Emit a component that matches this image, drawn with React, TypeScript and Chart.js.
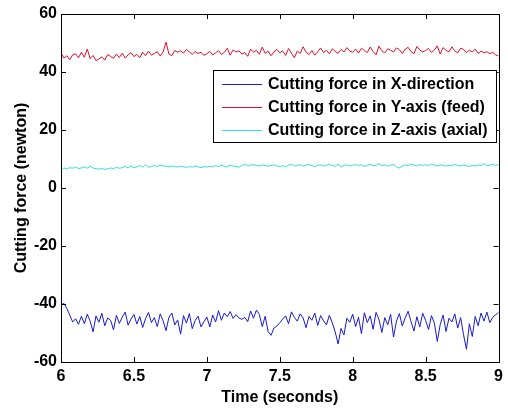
import React, { useEffect, useRef } from "react";
import { Chart, registerables } from "chart.js";

Chart.register(...registerables);

const T_START = 6;
const T_END = 9;
const xTicks = [6, 6.5, 7, 7.5, 8, 8.5, 9];
const yTicks = [-60, -40, -20, 0, 20, 40, 60];

const seriesNames = [
  "Cutting force in X-direction",
  "Cutting force in Y-axis (feed)",
  "Cutting force in Z-axis (axial)",
];
const seriesColors = ["#1a1acc", "#e0102a", "#2ee0dc"];

const forceX = [
  -40.3, -39.8, -41.5, -43.8, -46.2, -45.1, -47.0, -44.2, -46.8, -43.5, -45.9, -49.6, -44.1, -46.3, -43.2, -47.5, -44.8, -45.6, -48.9, -43.9, -46.7, -44.5, -42.8, -47.3, -45.2,
  -43.6, -46.9, -44.3, -48.1, -45.0, -42.9, -46.4, -44.7, -47.8, -43.4, -45.8, -49.2, -44.6, -43.1, -47.2, -45.5, -50.4, -44.0, -46.6, -43.3, -48.5, -45.7, -44.2, -47.9, -46.1,
  -44.5, -47.9, -43.8, -46.2, -42.3, -45.6, -43.1, -44.4, -42.6, -45.0, -43.7, -44.8, -45.3, -44.6, -46.1, -42.4, -44.9, -42.1, -43.6, -47.8, -44.2, -49.5, -50.8, -48.3, -47.6,
  -46.5, -45.2, -44.1, -46.8, -42.7, -44.6, -45.9, -43.4, -44.8, -48.2, -44.3, -45.6, -43.1, -47.4, -44.0, -45.8, -47.2, -43.9, -46.5, -49.6, -53.8, -48.4, -50.7, -44.9, -46.3,
  -43.5, -47.8, -44.6, -50.2, -43.0, -46.4, -44.1, -48.7, -42.9, -45.3, -49.8, -44.7, -47.2, -43.6, -51.4, -45.9, -43.3, -47.6, -44.8, -42.5, -46.1, -49.3, -44.4, -47.9, -43.2,
  -45.7, -48.8, -44.0, -46.6, -52.9, -47.1, -43.8, -49.5, -44.9, -46.2, -43.4, -48.3, -44.7, -50.6, -55.6, -46.8, -51.2, -44.3, -47.5, -43.1, -45.9, -42.8, -46.4, -44.6, -43.7, -42.9,
];

const forceY = [
  46.5, 44.8, 45.6, 44.2, 45.9, 46.3, 44.9, 46.8, 45.1, 47.9, 44.6, 45.7, 43.9, 44.5, 45.2, 44.1, 46.0, 45.4, 44.7, 46.2, 45.0, 46.5, 44.8, 45.9, 46.7,
  45.3, 46.1, 44.9, 46.8, 45.6, 47.2, 45.8, 46.4, 47.0, 45.5, 46.9, 50.3, 46.2, 45.6, 47.4, 46.8, 47.3, 46.5, 47.8, 46.9, 46.1, 47.0, 46.4, 46.8, 45.7,
  46.3, 47.1, 45.9, 46.6, 47.4, 46.0, 46.8, 48.2, 45.8, 47.6, 46.9, 47.3, 46.2, 46.7, 45.4, 47.9, 46.8, 47.5, 46.1, 48.6, 46.4, 47.2, 45.6, 46.9, 47.8,
  46.6, 47.3, 45.7, 48.1, 46.5, 44.9, 47.2, 46.4, 48.7, 46.9, 46.0, 47.4, 45.8, 47.0, 48.3, 46.7, 47.5, 46.3, 48.0, 47.1, 46.4, 47.8, 46.9, 48.4, 47.2,
  46.8, 47.9, 46.5, 48.2, 47.4, 46.7, 48.6, 47.1, 45.9, 48.9, 47.3, 46.6, 48.0, 47.5, 46.9, 48.3, 47.7, 46.4, 47.9, 48.5, 47.0, 46.3, 48.8, 47.6, 46.9,
  47.4, 48.1, 46.8, 47.6, 49.0, 46.2, 48.4, 47.5, 46.9, 48.7, 47.3, 46.6, 48.2, 47.8, 46.7, 47.5, 46.9, 47.9, 46.4, 47.2, 46.6, 47.0, 46.3, 46.8, 45.9, 45.5,
];

const forceZ = [
  6.4, 6.9, 6.6, 7.0, 6.8, 7.2, 6.7, 6.9, 7.3, 6.8, 7.5, 6.9, 6.6, 6.5, 6.7, 6.4, 6.6, 6.9, 6.7, 7.1, 6.8, 7.0, 7.4, 6.9, 7.6,
  7.0, 7.3, 7.8, 7.2, 8.1, 7.1, 7.5, 7.7, 7.4, 7.9, 7.6, 7.5, 7.3, 7.6, 7.4, 7.2, 7.5, 7.3, 7.1, 7.4, 7.2, 7.6, 7.3, 7.0, 7.4,
  7.2, 7.5, 7.3, 7.7, 7.4, 7.8, 7.5, 7.3, 7.9, 7.6, 7.4, 7.2, 7.7, 8.3, 7.6, 7.9, 8.1, 7.8, 7.6, 8.0, 7.7, 7.5, 7.8, 8.0, 7.6,
  7.4, 7.7, 7.3, 7.9, 8.2, 7.6, 7.8, 8.0, 7.5, 7.9, 8.1, 7.7, 7.4, 7.8, 8.0, 7.6, 7.9, 8.2, 7.7, 7.5, 8.3, 7.2, 7.8, 8.0, 7.6,
  7.9, 8.1, 7.7, 8.0, 7.4, 7.8, 8.2, 7.6, 7.9, 8.4, 7.7, 8.0, 7.5, 7.9, 8.1, 7.3, 6.9, 7.6, 8.0, 7.7, 8.3, 7.9, 7.6, 8.1, 7.8,
  8.0, 7.7, 8.2, 7.9, 7.6, 8.0, 7.8, 7.5, 7.9, 7.7, 8.1, 7.8, 7.6, 7.9, 7.7, 7.4, 7.8, 7.6, 8.0, 7.7, 8.4, 7.6, 7.9, 8.2, 7.8, 8.0,
];

const FONT = "'Liberation Sans', Arial, sans-serif";
const FONT_SIZE = 16;

function toPoints(values: number[]) {
  const n = values.length;
  return values.map((v, i) => ({ x: T_START + ((T_END - T_START) * i) / (n - 1), y: v }));
}

const framePlugin = {
  id: "matlabFrame",
  afterDraw(chart: any) {
    const { ctx, chartArea, scales } = chart;
    const { left, right, top, bottom } = chartArea;
    ctx.save();
    ctx.strokeStyle = "#000";
    ctx.lineWidth = 1;
    ctx.strokeRect(Math.round(left) + 0.5, Math.round(top) + 0.5, Math.round(right - left), Math.round(bottom - top));
    const tl = 5;
    ctx.beginPath();
    xTicks.forEach((v) => {
      const px = Math.round(scales.x.getPixelForValue(v)) + 0.5;
      ctx.moveTo(px, bottom);
      ctx.lineTo(px, bottom - tl);
      ctx.moveTo(px, top);
      ctx.lineTo(px, top + tl);
    });
    yTicks.forEach((v) => {
      const py = Math.round(scales.y.getPixelForValue(v)) + 0.5;
      ctx.moveTo(left, py);
      ctx.lineTo(left + tl, py);
      ctx.moveTo(right, py);
      ctx.lineTo(right - tl, py);
    });
    ctx.stroke();

    // legend box
    const bx = 213.5, by = 70.5, bw = 283, bh = 72;
    ctx.fillStyle = "#fff";
    ctx.fillRect(bx, by, bw, bh);
    ctx.strokeRect(bx, by, bw, bh);
    ctx.font = `bold ${FONT_SIZE}px ${FONT}`;
    ctx.textBaseline = "middle";
    ctx.textAlign = "left";
    const rows = [84, 107, 130];
    seriesNames.forEach((name, i) => {
      ctx.strokeStyle = seriesColors[i];
      ctx.beginPath();
      ctx.moveTo(222, rows[i] + 0.5);
      ctx.lineTo(262, rows[i] + 0.5);
      ctx.stroke();
      ctx.fillStyle = "#000";
      ctx.fillText(name, 268, rows[i] + 1);
    });
    ctx.restore();
  },
};

export default function App() {
  const ref = useRef<HTMLCanvasElement>(null);
  useEffect(() => {
    if (!ref.current) return;
    const font = { family: FONT, size: FONT_SIZE, weight: "bold" as const };
    const chart = new Chart(ref.current, {
      type: "line",
      data: {
        datasets: [
          { label: seriesNames[0], data: toPoints(forceX), borderColor: seriesColors[0] },
          { label: seriesNames[1], data: toPoints(forceY), borderColor: seriesColors[1] },
          { label: seriesNames[2], data: toPoints(forceZ), borderColor: seriesColors[2] },
        ].map((d) => ({ ...d, borderWidth: 1, pointRadius: 0, tension: 0, fill: false })),
      },
      options: {
        animation: false,
        responsive: false,
        devicePixelRatio: 1,
        layout: { padding: { left: 0, top: 14, right: 8, bottom: 0 } },
        plugins: { legend: { display: false }, tooltip: { enabled: false } },
        scales: {
          x: {
            type: "linear",
            min: T_START,
            max: T_END,
            afterBuildTicks: (s: any) => {
              s.ticks = xTicks.map((v) => ({ value: v }));
            },
            afterFit: (s: any) => {
              s.height = 48;
            },
            grid: { display: false, drawTicks: false },
            border: { display: false },
            ticks: {
              color: "#000",
              padding: 5,
              maxRotation: 0,
              font,
              callback: (v: any) => String(v),
            },
            title: {
              display: true,
              text: "Time (seconds)",
              color: "#000",
              padding: { top: 0, bottom: 3 },
              font,
            },
          },
          y: {
            type: "linear",
            min: -60,
            max: 60,
            afterBuildTicks: (s: any) => {
              s.ticks = yTicks.map((v) => ({ value: v }));
            },
            afterFit: (s: any) => {
              s.width = 61;
            },
            grid: { display: false, drawTicks: false },
            border: { display: false },
            ticks: {
              color: "#000",
              padding: 4,
              font,
              callback: (v: any) => String(v),
            },
            title: {
              display: true,
              text: "Cutting force (newton)",
              color: "#000",
              padding: { top: 12, bottom: 0 },
              font,
            },
          },
        },
      },
      plugins: [framePlugin],
    });
    return () => chart.destroy();
  }, []);
  return (
    <div style={{ position: "absolute", left: 0, top: 0, width: 508, height: 410, background: "#fff" }}>
      <canvas ref={ref} width={508} height={410} style={{ width: 508, height: 410 }} />
    </div>
  );
}
